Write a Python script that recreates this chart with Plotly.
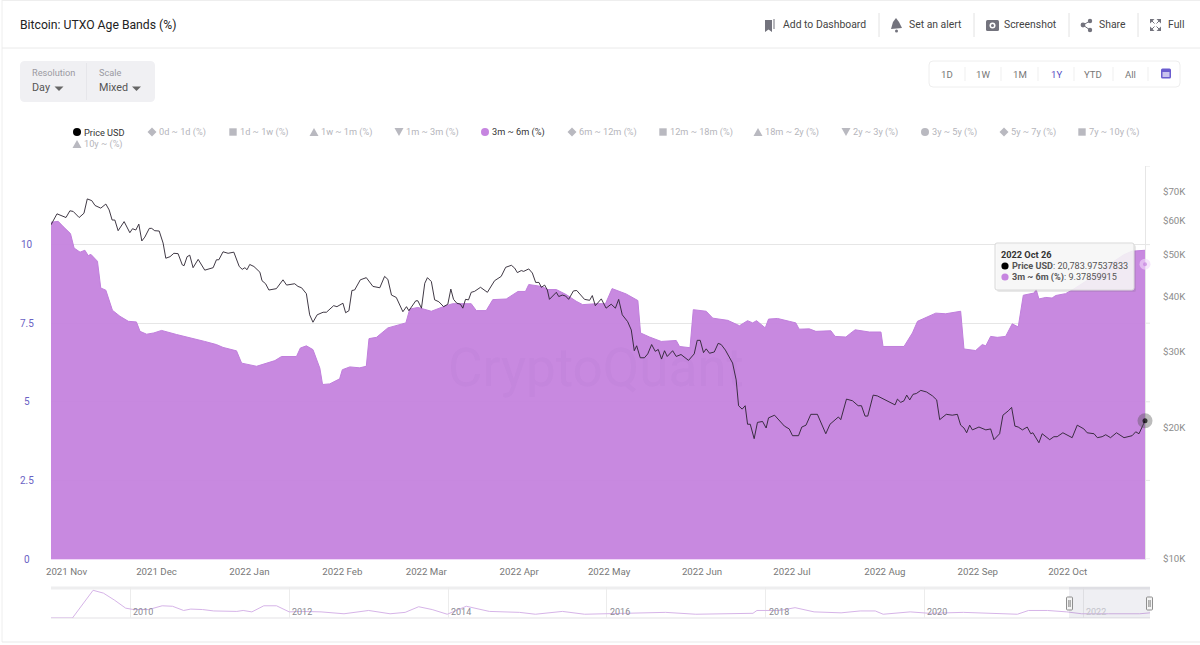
import pandas as pd
import plotly.graph_objects as go

W, H = 1200, 645
FONT = "Roboto"
START = pd.Timestamp("2021-10-26 19:00")

band_days = [0,2.4,4,6.5,7.7,9.7,11.3,12.4,13.3,15.5,16.6,18.3,20.5,23,25.8,28.5,29.7,31.9,34.3,36.9,41.9,46.9,51.3,55.2,57.4,61.9,63.6,68.6,71.9,74.7,76.9,81.9,83.2,85.2,87.4,89.7,90.6,93,96.3,97.2,99.7,103,105.2,106.1,108.6,112.4,118.4,119.7,122.4,126.9,131.3,134,140.2,141.9,145.2,147.4,151.9,155.8,158.3,159.4,163.6,165.8,168.6,171.9,175.2,177.4,181.9,185,187.2,191.9,195.8,196.7,199.7,203.6,208.6,209.7,213.2,214.3,218.6,220.8,225.8,229.7,232.4,234.1,235.4,238.3,239.4,242.4,246.3,248.5,249.6,253,255.2,260.2,261.6,265.2,266.9,268.3,273,276.9,277.6,284.6,287.4,289.1,295.2,298.5,303.5,304.6,308.5,310.7,311.9,313.5,315.7,318.5,320.7,322.7,324.4,328,328.7,329.6,331.9,334,335.2,338.5,341.3,346,352,357,358,360.7,363.9,365]
band_pct = [10.71,10.74,10.58,10.35,9.89,9.76,9.82,9.65,9.69,9.47,8.62,8.55,7.91,7.72,7.56,7.54,7.24,7.15,7.19,7.27,7.14,7.01,6.92,6.82,6.73,6.62,6.23,6.13,6.23,6.31,6.44,6.44,6.71,6.78,6.66,6.07,5.55,5.57,5.73,6.02,6.11,6.08,6.13,7.01,7.05,7.35,7.51,7.95,8.0,7.88,8.04,8.12,8.12,7.90,7.90,8.25,8.27,8.51,8.51,8.73,8.67,8.57,8.57,8.41,8.20,8.09,8.12,8.12,8.60,8.43,8.22,7.19,7.06,6.92,6.95,6.76,6.72,7.93,7.88,7.66,7.59,7.42,7.58,7.51,7.58,7.35,7.63,7.65,7.56,7.51,7.31,7.32,7.24,7.26,7.08,7.06,7.19,7.29,7.22,7.22,6.76,6.76,7.19,7.56,7.82,7.80,7.88,6.68,6.63,6.82,6.78,7.08,7.05,7.08,7.48,7.38,8.39,8.46,8.57,8.27,8.32,8.30,8.38,8.44,8.59,8.88,9.3,9.62,9.68,9.79,9.82,9.82]

price_days = [0,2,5,6.3,7.4,9.4,11,12.1,13.6,14.7,16.6,18.3,19.4,20.4,21.3,22.4,24.4,26.3,27.2,28.3,29.3,30.3,31.3,32.8,33.6,34.6,36.1,37.4,38.3,39.7,41,42.4,43.8,44.4,45.4,46.3,47.4,49.1,51.3,54.1,55.2,56,57.4,59.1,61,62.8,63.8,64.7,65.4,66.3,67.7,69.7,70.4,71.6,72.7,75.2,77.4,78.6,81.3,82.4,83.6,85.2,86.3,87.4,88.8,90.8,91.9,94.3,95.4,97.4,98.3,99.4,100.4,101.3,103.2,105.2,107.4,109.7,111.3,112.4,113.6,115.2,117.4,118.6,119.4,121.7,122.4,123.6,124.7,125.6,126.9,128,129.4,131,132.4,133.4,134.3,135.4,136.6,137.4,138.3,139.3,140.2,141.3,143.3,145.6,148,150.2,151.7,153.6,154.7,155.6,156.9,157.7,159.4,160.6,161.7,162.8,163.6,164.7,165.6,166.3,168.6,169.4,170.6,171.7,172.7,174.3,175.4,178,179.7,180.6,181.6,183.6,185.2,186.9,188.3,189.4,190.6,192.4,193.6,194.6,195.4,196.6,198,199.1,200.4,201.6,202.6,203.7,204.7,205.6,207.4,208.6,210.2,212.7,214.6,215.6,216.6,217.7,218.6,219.7,221.3,222.6,223.6,225,227.4,228.6,229.4,230.6,231.6,232.4,233.3,234.6,235.7,237.4,238.6,239.4,241.4,244.7,246.3,247.4,249.4,250.5,251.9,253.5,255.7,258.5,259.9,262.7,263.5,265.4,267.4,269.3,270.4,271.6,272.5,274.3,275.7,278.5,281.6,282.4,283.5,284.6,285.5,286.5,287.6,288.7,290.2,292.1,294.1,295.5,296.5,298.7,300.7,302.4,303.5,304.6,305.5,306.5,307.4,309.6,311.9,313.5,314.6,316.5,317.6,319.4,320.5,321.6,322.7,324.1,325.7,326.9,327.6,329.6,330.7,333.2,334.6,335.7,337.6,340.7,342.4,344.6,345.7,348,349.1,350.7,351.9,353.5,355.5,358,360.7,361.9,363,365]
price_usd = [58600,62100,60900,63100,62900,60900,62300,67200,66600,64900,64000,65400,63400,60100,60100,56800,59600,56200,57400,57000,58800,53800,54900,57500,57500,56800,56700,53200,49100,49500,50400,50300,47400,47200,49500,49900,46700,48800,46100,46700,48700,48700,50800,50400,50700,47000,46300,46700,46200,47500,47000,45600,43600,42900,41500,41800,43800,42600,42900,42300,42000,40700,36400,35000,36400,36900,36900,38200,38000,38700,36800,37200,41400,41500,43800,44300,42300,42000,44600,43900,40400,39900,37000,38000,37200,39200,39200,37700,43000,44300,43400,39400,39000,38000,38500,41700,39500,38700,38500,37700,39500,39400,41000,41200,42100,41000,43600,44600,46800,47300,46600,45500,46000,45800,46400,45400,43200,43200,42100,42600,41500,39500,41000,40100,40400,40200,39500,41300,41400,39500,39300,40300,38200,39600,37700,38500,37700,39500,36400,35100,33600,30100,30900,29000,29000,29600,31100,30000,30300,28800,30100,29200,30100,29200,29500,28600,29600,31800,31800,29800,30400,29700,29900,31300,31100,30200,28200,25800,22500,22100,22500,20400,20400,18900,20600,20700,20000,21100,21400,20200,19900,19200,19200,20100,20300,21500,21500,19400,20400,21200,20900,23300,23100,22500,22500,21300,21300,23800,23700,23200,22600,23300,22900,23100,23800,23200,23900,24000,24400,24200,23700,23200,20900,21500,21400,21500,20300,20000,19500,20300,19800,20100,19800,19900,18800,19400,21400,21900,22300,20200,20100,19800,20100,19400,19500,18500,19400,18800,19100,19100,19500,19000,20300,19900,19500,19400,19000,19100,19300,19000,19500,19000,19200,19600,19400,20784]

overview_year = [2009.0,2009.27,2009.53,2009.66,2009.8,2009.94,2010.04,2010.23,2010.4,2010.53,2010.67,2010.76,2010.91,2011.05,2011.34,2011.42,2011.53,2011.68,2011.84,2012.0,2012.16,2012.4,2012.69,2013.0,2013.27,2013.46,2013.63,2013.8,2013.99,2014.23,2014.52,2014.9,2015.1,2015.44,2015.72,2016.35,2016.74,2017.12,2017.84,2017.89,2018.18,2018.37,2018.61,2018.95,2019.19,2019.38,2019.48,2019.82,2020.06,2020.49,2021.17,2021.31,2021.55,2021.79,2021.98,2022.32,2022.71,2022.84]
overview_pct = [0,0,59,53,38,21,18,18,26,25,16,19,18,15,14,16,13,26,26,13,14,13,9,16,9,12,24,18,8,25,14,12,8,14,8,10,12,8,10,16,16,22,13,11,15,15,8,13,10,12,8,16,16,13,9,9,9,11]

month_ticks = ["2021-11-01","2021-12-01","2022-01-01","2022-02-01","2022-03-01","2022-04-01","2022-05-01","2022-06-01","2022-07-01","2022-08-01","2022-09-01","2022-10-01"]
month_labels = ["2021 Nov","2021 Dec","2022 Jan","2022 Feb","2022 Mar","2022 Apr","2022 May","2022 Jun","2022 Jul","2022 Aug","2022 Sep","2022 Oct"]
pct_ticks = [0, 2.5, 5, 7.5, 10, 12.5]
pct_labels = ["0", "2.5", "5", "7.5", "10", ""]
usd_ticks = [10000, 20000, 30000, 40000, 50000, 60000, 70000]
usd_labels = ["$10K", "$20K", "$30K", "$40K", "$50K", "$60K", "$70K"]
overview_ticks = [2010, 2012, 2014, 2016, 2018, 2020, 2022]

hover_date = "2022 Oct 26"
hover_price = 20783.97537833
hover_pct = 9.37859915

legend_names = ["Price USD","0d ~ 1d (%)","1d ~ 1w (%)","1w ~ 1m (%)","1m ~ 3m (%)","3m ~ 6m (%)","6m ~ 12m (%)","12m ~ 18m (%)","18m ~ 2y (%)","2y ~ 3y (%)","3y ~ 5y (%)","5y ~ 7y (%)","7y ~ 10y (%)","10y ~ (%)"]
legend_kinds = ["circle","diamond","square","up","down","circle","diamond","square","up","down","circle","diamond","square","up"]
legend_text_x = [84,159,240,321,406,492,579,670,765,853,932,1011,1089,84]
legend_y = [132]*13 + [144]

PURPLE = "#c685e0"
GREY_MARK = "#b9b9c0"


def fx(px):
    return px / W


def fy(py):
    return 1 - py / H


shapes, notes = [], []


def txt(x, y, s, size=11, color="#555", anchor="left"):
    notes.append(dict(x=fx(x), y=fy(y), xref="paper", yref="paper", text=s, showarrow=False,
                      xanchor=anchor, yanchor="middle", borderpad=0, align="left",
                      xshift=-1 if anchor == "left" else 0,
                      font=dict(family=FONT, size=size, color=color)))


def rect(x0, y0, x1, y1, fill="rgba(0,0,0,0)", line=None, lw=1, layer="above"):
    shapes.append(dict(type="rect", xref="paper", yref="paper", x0=fx(x0), x1=fx(x1), y0=fy(y0), y1=fy(y1),
                       fillcolor=fill, line=dict(color=line or "rgba(0,0,0,0)", width=lw if line else 0), layer=layer))


def rrect(x0, y0, x1, y1, r, fill, line=None, layer="below"):
    p = (f"M{fx(x0+r)},{fy(y0)} L{fx(x1-r)},{fy(y0)} Q{fx(x1)},{fy(y0)} {fx(x1)},{fy(y0+r)} "
         f"L{fx(x1)},{fy(y1-r)} Q{fx(x1)},{fy(y1)} {fx(x1-r)},{fy(y1)} L{fx(x0+r)},{fy(y1)} "
         f"Q{fx(x0)},{fy(y1)} {fx(x0)},{fy(y1-r)} L{fx(x0)},{fy(y0+r)} Q{fx(x0)},{fy(y0)} {fx(x0+r)},{fy(y0)} Z")
    shapes.append(dict(type="path", xref="paper", yref="paper", path=p, fillcolor=fill,
                       line=dict(color=line or "rgba(0,0,0,0)", width=1 if line else 0), layer=layer))


def seg(x0, y0, x1, y1, color="#e6e6e6", lw=1, layer="above"):
    shapes.append(dict(type="line", xref="paper", yref="paper", x0=fx(x0), x1=fx(x1), y0=fy(y0), y1=fy(y1),
                       line=dict(color=color, width=lw), layer=layer))


def poly(pts, fill, layer="above"):
    p = "M" + " L".join(f"{fx(a)},{fy(b)}" for a, b in pts) + " Z"
    shapes.append(dict(type="path", xref="paper", yref="paper", path=p, fillcolor=fill,
                       line=dict(width=0, color="rgba(0,0,0,0)"), layer=layer))


def circ(cx, cy, r, fill, line=None, lw=1):
    shapes.append(dict(type="circle", xref="paper", yref="paper", x0=fx(cx-r), x1=fx(cx+r), y0=fy(cy-r), y1=fy(cy+r),
                       fillcolor=fill, line=dict(color=line or "rgba(0,0,0,0)", width=lw if line else 0), layer="above"))


def glyph(kind, cx, cy, color):
    if kind == "circle":
        circ(cx, cy, 4, color)
    elif kind == "square":
        rect(cx-3.7, cy-3.7, cx+3.7, cy+3.7, fill=color)
    elif kind == "diamond":
        poly([(cx, cy-4.5), (cx+4.5, cy), (cx, cy+4.5), (cx-4.5, cy)], color)
    elif kind == "up":
        poly([(cx, cy-4), (cx+4.5, cy+4), (cx-4.5, cy+4)], color)
    else:
        poly([(cx-4.5, cy-4), (cx+4.5, cy-4), (cx, cy+4)], color)


def dates(days):
    return START + pd.to_timedelta(days, unit="D")


# page frame and header
seg(2, 0, 2, 642, "#eeeeee", layer="below")
seg(2, 642, 1200, 642, "#e9e9e9", layer="below")
seg(2, 0.5, 1200, 0.5, "#eeeeee", layer="below")
seg(2, 48, 1200, 48, "#eaeaea", layer="below")
txt(20, 25, "Bitcoin: UTXO Age Bands (%)", 12.2, "#222")

ICON = "#73737d"
for lx, s in [(783, "Add to Dashboard"), (909, "Set an alert"), (1004, "Screenshot"), (1099, "Share"), (1168, "Full")]:
    txt(lx, 25, s, 10.4, "#444")
for sx in [879, 974, 1069, 1138]:
    seg(sx, 13, sx, 37, "#e2e2e2")
poly([(765, 20), (772, 20), (772, 32), (768.5, 29.5), (765, 32)], ICON)
seg(774, 19, 774, 29, ICON, 1)
poly([(896, 18), (899, 22), (902, 28), (891, 29), (893, 22)], ICON)
circ(896.5, 31, 1.5, ICON)
rrect(986, 20, 999, 31, 1.5, ICON, layer="above")
circ(992.5, 25.5, 3, "#ffffff")
circ(992.5, 25.5, 1.5, ICON)
seg(1083, 25, 1090, 21, ICON, 1)
seg(1083, 25, 1090, 30, ICON, 1)
circ(1083, 25, 2.4, ICON)
circ(1090, 21, 2.2, ICON)
circ(1090, 30, 2.2, ICON)
for ax, ay, dx, dy in [(1150, 19, 1, 1), (1161, 19, -1, 1), (1150, 31, 1, -1), (1161, 31, -1, -1)]:
    poly([(ax, ay), (ax + 4.5 * dx, ay), (ax, ay + 4.5 * dy)], ICON)
    seg(ax, ay, ax + 4.5 * dx, ay + 4.5 * dy, ICON, 1)

# controls
rrect(20, 61, 155, 102, 5, "#f0f0f3")
seg(86.5, 63, 86.5, 100, "#e6e6ea")
txt(32, 73, "Resolution", 9.2, "#9a9aa2")
txt(32, 87, "Day", 10.8, "#555")
txt(99, 73, "Scale", 9.2, "#9a9aa2")
txt(99, 87, "Mixed", 10.8, "#555")
poly([(54.5, 86.5), (63.5, 86.5), (59, 91)], "#666")
poly([(132, 86.5), (141, 86.5), (136.5, 91)], "#666")

rrect(929, 61, 1180, 87, 4, "#ffffff", "#eeeeee")
for lx, s, col in [(947, "1D", "#777"), (983, "1W", "#777"), (1020, "1M", "#777"), (1056, "1Y", "#5b4fc4"), (1093, "YTD", "#777"), (1130, "All", "#777")]:
    txt(lx, 74, s, 9.6, col, "center")
for sx in [965, 1001, 1038, 1074, 1113, 1148]:
    seg(sx, 67, sx, 81, "#efefef")
rrect(1161, 68.5, 1171, 78.5, 1.5, "#6a5ccf", layer="above")
rect(1162.5, 72, 1169.5, 77, fill="#c9c3ee")

# legend
for name, kind, tx, ly in zip(legend_names, legend_kinds, legend_text_x, legend_y):
    active = name in ("Price USD", "3m ~ 6m (%)")
    col = "#000000" if name == "Price USD" else (PURPLE if active else GREY_MARK)
    glyph(kind, tx - 7, ly, col)
    txt(tx, ly, name, 9.2, "#333" if active else "#b5b5bb")

# percentage labels, centred in their column as in the source
for v, s in zip(pct_ticks, pct_labels):
    if s:
        notes.append(dict(x=fx(26.5), xref="paper", y=v, yref="y", text=s, showarrow=False, xanchor="center",
                          yanchor="middle", font=dict(family=FONT, size=10, color="#6a62c4")))
    # short gridline stubs past the right edge of the plot
    shapes.append(dict(type="line", xref="paper", yref="y", x0=fx(1145), x1=fx(1150), y0=v, y1=v,
                       line=dict(color="#e6e6e6", width=1), layer="below"))

# watermark
txt(596, 368, "CryptoQuant", 53, "rgba(110,50,140,0.035)", "center")

# overview panel
seg(51, 588, 1150, 588, "#eeeeef", 3, layer="below")
seg(51, 618, 1150, 618, "#ecebee", 1.5, layer="below")
for yr in overview_ticks:
    notes.append(dict(x=yr, xref="x2", y=fy(612), yref="paper", text=str(yr), showarrow=False, xanchor="left",
                      xshift=1, yanchor="middle", font=dict(family=FONT, size=9,
                      color="#c4c4cc" if yr == 2022 else "#8b8b93")))
rect(1069, 587, 1150, 618, fill="rgba(110,110,150,0.11)")
for hx in (1069.5, 1149.5):
    rrect(hx - 3, 597, hx + 3, 610, 1, "#f4f4f4", "#8f8f8f", layer="above")
    seg(hx - 0.7, 600, hx - 0.7, 607, "#8f8f8f")
    seg(hx + 0.7, 600, hx + 0.7, 607, "#8f8f8f")

# tooltip
rrect(997, 245, 1136, 292, 2, "rgba(90,90,90,0.14)", layer="above")
rrect(995, 243, 1134, 290, 2, "rgba(248,248,248,0.88)", "#d9d9d9", layer="above")
circ(1005, 266, 3.6, "#000000")
circ(1005, 277, 3.6, PURPLE)
txt(1001, 254.5, f"<b>{hover_date}</b>", 9.2, "#333")
txt(1012, 266, f"<b>Price USD</b>: {hover_price:,.8f}", 9.1, "#555")
txt(1012, 277, f"<b>3m ~ 6m (%)</b>: {hover_pct:.8f}", 9.1, "#555")

fig = go.Figure()
fig.add_trace(go.Scatter(x=dates(band_days), y=band_pct, mode="lines", name="3m ~ 6m (%)", fill="tozeroy",
                         fillcolor="rgba(198,132,223,0.96)", line=dict(color="#c07fdc", width=1), yaxis="y",
                         xaxis="x", showlegend=False))
fig.add_trace(go.Scatter(x=dates(price_days), y=price_usd, mode="lines", name="Price USD",
                         line=dict(color="#2a2230", width=0.9), yaxis="y3", xaxis="x", showlegend=False))
end_x = dates(price_days[-1])
fig.add_trace(go.Scatter(x=[end_x, end_x], y=[hover_pct, hover_pct], mode="markers", yaxis="y", xaxis="x",
                         showlegend=False, cliponaxis=False,
                         marker=dict(size=[11, 4], color=["rgba(240,215,250,0.9)", PURPLE], line=dict(width=0))))
fig.add_trace(go.Scatter(x=[end_x, end_x], y=[hover_price, hover_price], mode="markers", yaxis="y3", xaxis="x",
                         showlegend=False, cliponaxis=False,
                         marker=dict(size=[15, 5], color=["rgba(80,80,80,0.55)", "#000000"], line=dict(width=0))))
fig.add_trace(go.Scatter(x=overview_year, y=overview_pct, mode="lines", xaxis="x2", yaxis="y2", showlegend=False,
                         line=dict(color="#d6b4e8", width=1)))

fig.update_layout(
    width=W, height=H, autosize=False, margin=dict(l=0, r=0, t=0, b=0, autoexpand=False), paper_bgcolor="#ffffff", plot_bgcolor="#ffffff",
    hovermode=False, shapes=shapes, annotations=notes, font=dict(family=FONT),
    xaxis=dict(domain=[fx(51), fx(1145)], range=[dates(0), dates(365)], type="date", tickmode="array", tickvals=month_ticks,
               ticktext=month_labels, showgrid=False, ticks="", ticklabelstandoff=3, tickfont=dict(family=FONT, size=9.7, color="#777"),
               showline=True, linecolor="#f0d8f8", linewidth=1, zeroline=False, layer="below traces"),
    yaxis=dict(domain=[fy(559), fy(166)], range=[0, 12.5], tickmode="array", tickvals=pct_ticks, showticklabels=False,
               showgrid=True, gridcolor="#e6e6e6", gridwidth=1, zeroline=False, ticks="", layer="below traces"),
    yaxis3=dict(overlaying="y", side="right", anchor="x", type="log", range=[4, 4.903], tickmode="array",
                tickvals=usd_ticks, ticktext=usd_labels, showgrid=False, zeroline=False, ticks="", showline=True,
                linecolor="#e6e6e6", ticklabelstandoff=15, tickfont=dict(family=FONT, size=9.7, color="#8c8c8c"),
                layer="below traces"),
    xaxis2=dict(domain=[fx(51), fx(1150)], range=[2009, 2022.84], anchor="y2", tickmode="array", tickvals=overview_ticks,
                showticklabels=False, showgrid=True, gridcolor="#ececec", zeroline=False, ticks=""),
    yaxis2=dict(domain=[fy(618), fy(587)], range=[0, 66], anchor="x2", showticklabels=False, showgrid=False,
                zeroline=False, ticks=""),
)

fig.write_html(
    "out.html",
    config={"responsive": False, "displayModeBar": False},
    post_script=(
        "document.documentElement.style.margin='0';document.body.style.margin='0';"
        "document.body.style.overflow='hidden';"
        "var gd=document.getElementById('{plot_id}');gd.style.position='fixed';gd.style.left='0';gd.style.top='0';"
    ),
)
